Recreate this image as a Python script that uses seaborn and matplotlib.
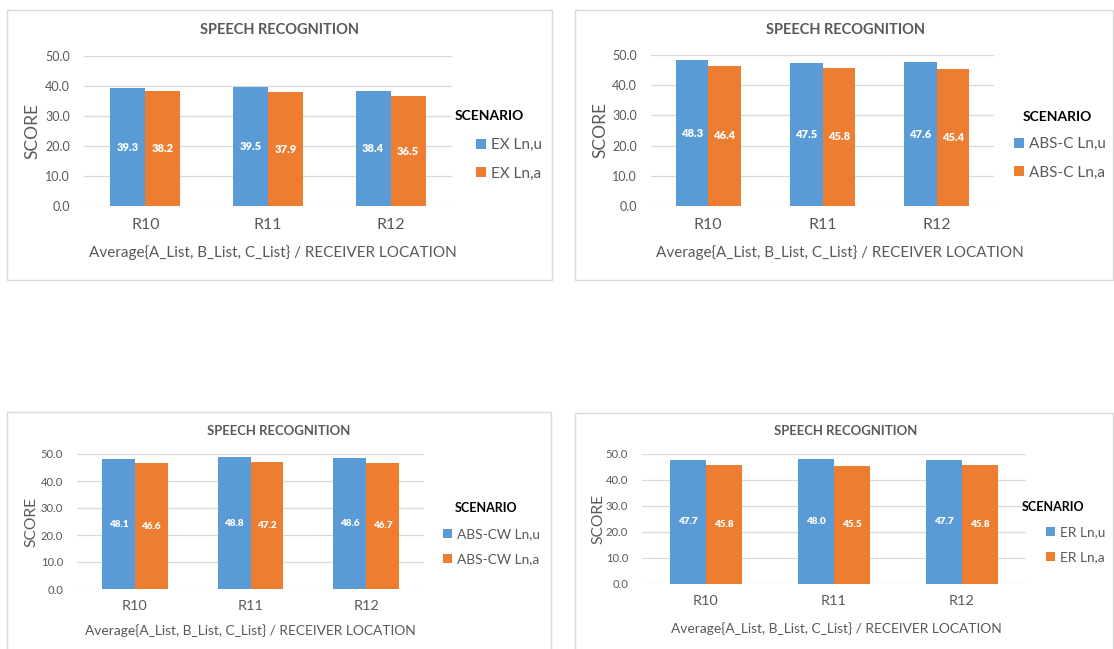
import pandas as pd
import seaborn as sns
import matplotlib.pyplot as plt
from matplotlib.patches import Rectangle, Patch

# data
locations = ['R10', 'R11', 'R12']

ex_names = ['EX Ln,u', 'EX Ln,a']
ex_u = [39.3, 39.5, 38.4]
ex_a = [38.2, 37.9, 36.5]

absc_names = ['ABS-C Ln,u', 'ABS-C Ln,a']
absc_u = [48.3, 47.5, 47.6]
absc_a = [46.4, 45.8, 45.4]

abscw_names = ['ABS-CW Ln,u', 'ABS-CW Ln,a']
abscw_u = [48.1, 48.8, 48.6]
abscw_a = [46.6, 47.2, 46.7]

er_names = ['ER Ln,u', 'ER Ln,a']
er_u = [47.7, 48.0, 47.7]
er_a = [45.8, 45.5, 45.8]

yticks = [0, 10, 20, 30, 40, 50]
title = 'SPEECH RECOGNITION'
xlabel = 'Average{A_List, B_List, C_List} / RECEIVER LOCATION'
ylabel = 'SCORE'
legend_title = 'SCENARIO'

BLUE = '#5B9BD5'
ORANGE = '#ED7D31'
GRAY = '#595959'
GRID = '#D9D9D9'

W, H = 1114, 649

sns.set_theme(style='white')
plt.rcParams['font.family'] = ['Lato', 'DejaVu Sans']

fig = plt.figure(figsize=(W / 100, H / 100), dpi=100)


def px_rect(x0, y0, x1, y1):
    return [x0 / W, 1 - y1 / H, (x1 - x0) / W, (y1 - y0) / H]


def fx(x):
    return x / W


def fy(y):
    return 1 - y / H


panels = [
    # names, u, a, frame, axes, title_xy, xlabel_xy, ylabel_x, scen_xy, legend_xy, scale
    (ex_names, ex_u, ex_a, (7, 10, 552, 280), (84, 56, 452, 206),
     (279, 30), (273, 253), 32, (455, 116), (476, 138), 1.0),
    (absc_names, absc_u, absc_a, (575, 10, 1113, 280), (651, 55, 994, 206),
     (846, 30), (840, 253), 600, (1023, 117), (1014, 137), 1.0),
    (abscw_names, abscw_u, abscw_a, (7, 412, 551, 700), (77, 454, 424, 589),
     (279, 431), (250, 631), 31, (455, 508), (443, 528), 0.9),
    (er_names, er_u, er_a, (575, 413, 1113, 700), (642, 454, 1026, 584),
     (846, 431), (836, 629), 598, (1022, 507), (1046, 526), 0.9),
]

for names, u_vals, a_vals, frame, axr, tpos, xlpos, ylx, spos, lpos, s in panels:
    # chart frame
    fig.patches.append(Rectangle((fx(frame[0]), fy(frame[3])),
                                 (frame[2] - frame[0]) / W,
                                 (frame[3] - frame[1]) / H,
                                 transform=fig.transFigure, fill=False,
                                 edgecolor=GRID, linewidth=1.0))

    df = pd.DataFrame({
        'location': locations * 2,
        'score': u_vals + a_vals,
        'scenario': [names[0]] * 3 + [names[1]] * 3,
    })

    ax = fig.add_axes(px_rect(*axr))
    sns.barplot(data=df, x='location', y='score', hue='scenario',
                palette=[BLUE, ORANGE], width=0.57, saturation=1,
                legend=False, ax=ax, zorder=3, linewidth=0)

    for c in ax.containers:
        ax.bar_label(c, label_type='center', fmt='%.1f', color='white',
                     fontweight='heavy', fontsize=8 * s)

    ax.set_ylim(0, 50)
    ax.set_yticks(yticks)
    ax.set_yticklabels([f'{v:.1f}' for v in yticks])
    ax.yaxis.grid(True, color=GRID, linewidth=0.9, zorder=0)
    ax.set_axisbelow(True)
    for sp in ax.spines.values():
        sp.set_visible(False)
    ax.tick_params(axis='y', length=0, pad=10, labelsize=9 * s, labelcolor=GRAY)
    ax.tick_params(axis='x', length=0, pad=9 * s, labelsize=11.5 * s, labelcolor=GRAY)
    ax.set_xlabel('')
    ax.set_ylabel('')

    fig.text(fx(tpos[0]), fy(tpos[1]), title, ha='center', va='center',
             fontsize=10.5 * s, fontweight='bold', color=GRAY)
    fig.text(fx(xlpos[0]), fy(xlpos[1]), xlabel, ha='center', va='center',
             fontsize=11 * s, color=GRAY)
    fig.text(fx(ylx), fy((axr[1] + axr[3]) / 2), ylabel, ha='center',
             va='center', rotation=90, fontsize=12.5 * s, color=GRAY)
    fig.text(fx(spos[0]), fy(spos[1]), legend_title, ha='left', va='center',
             fontsize=10 * s, fontweight='bold', color='black')

    handles = [Patch(facecolor=BLUE, edgecolor='none'),
               Patch(facecolor=ORANGE, edgecolor='none')]
    ax.legend(handles, names, loc='upper left',
              bbox_to_anchor=(fx(lpos[0]), fy(lpos[1])),
              bbox_transform=fig.transFigure, frameon=False,
              fontsize=11 * s, labelcolor=GRAY, handlelength=0.65,
              handleheight=0.65, handletextpad=0.35, labelspacing=0.95,
              borderpad=0, borderaxespad=0)

fig.savefig('out.png', dpi=100)
